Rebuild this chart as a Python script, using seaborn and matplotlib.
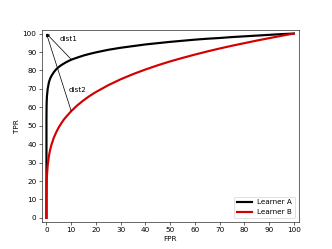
import matplotlib
matplotlib.use("Agg")
import matplotlib.pyplot as plt
import seaborn as sns
import pandas as pd

# FPR / TPR values (percent)
fpr = [0, 0.01, 0.05, 0.1, 0.2, 0.5, 1, 1.5, 2, 3, 4, 5, 6, 7, 8, 10, 12.5, 15, 17.5,
       20, 25, 30, 35, 40, 45, 50, 55, 60, 65, 70, 75, 80, 85, 90, 95, 100]
tpr_a = [0, 54, 60, 63, 66, 70, 73.6, 75.6, 77, 79.1, 80.7, 81.9, 82.9, 83.7, 84.5, 85.8,
         87, 88.1, 89, 89.8, 91.2, 92.3, 93.2, 94.1, 94.8, 95.5, 96.1, 96.7, 97.2, 97.6,
         98.1, 98.5, 98.9, 99.3, 99.7, 100]
tpr_b = [0, 11.3, 16.5, 19.5, 22.9, 28.5, 33.6, 37, 39.6, 43.6, 46.6, 49.2, 51.3, 53.3,
         54.9, 57.9, 61.1, 63.8, 66.2, 68.3, 72, 75.2, 78, 80.5, 82.8, 84.9, 86.8, 88.6,
         90.3, 91.9, 93.4, 94.8, 96.2, 97.5, 98.8, 100]

best = (0, 100)
near_a = (10, 86)
near_b = (10, 58)

df = pd.DataFrame({
    "FPR": fpr * 2,
    "TPR": tpr_a + tpr_b,
    "learner": ["Learner A"] * len(fpr) + ["Learner B"] * len(fpr),
})

fig, ax = plt.subplots(figsize=(6.4, 4.8), dpi=51.875)
sns.lineplot(data=df, x="FPR", y="TPR", hue="learner",
             palette={"Learner A": "black", "Learner B": "#d40000"},
             linewidth=3, sort=False, ax=ax)

# Linien vom Idealpunkt zu den Kurven
for p in (near_a, near_b):
    ax.annotate("", xy=best, xytext=p,
                arrowprops=dict(arrowstyle="-|>", color="black", lw=1,
                                mutation_scale=8, shrinkA=0, shrinkB=0))
ax.text(5.3, 97, "dist1", fontsize=10, va="center")
ax.text(9, 69.5, "dist2", fontsize=10, va="center")

ax.set_xlim(-2, 102)
ax.set_ylim(-2, 102)
ax.set_xticks(range(0, 101, 10))
ax.set_yticks(range(0, 101, 10))
ax.set_xlabel("FPR")
ax.set_ylabel("TPR")
ax.legend(loc="lower right", title=None)

fig.savefig("out.png", dpi=51.875)
